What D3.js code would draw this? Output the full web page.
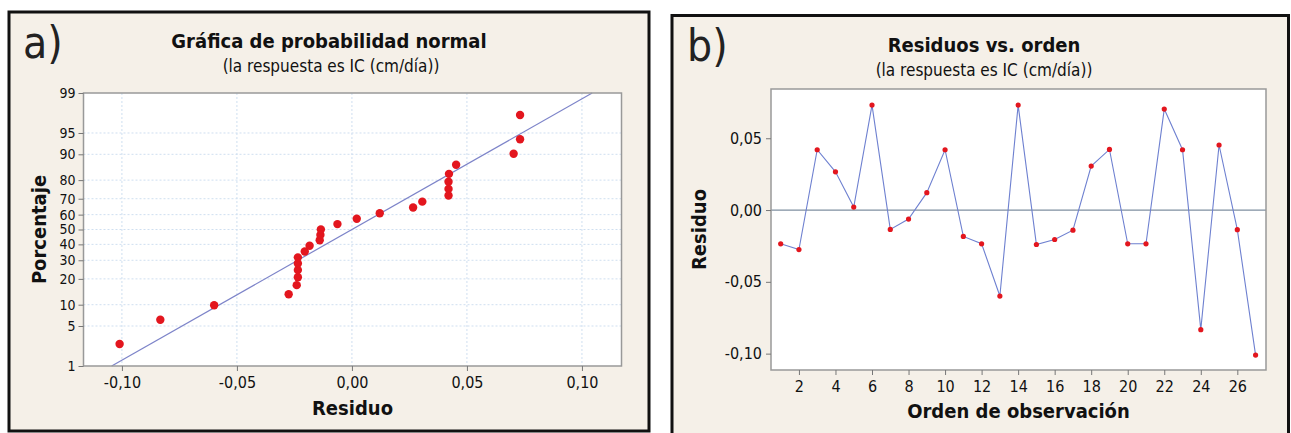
<!DOCTYPE html>
<html>
<head>
<meta charset="utf-8">
<script src="https://cdn.jsdelivr.net/npm/d3@7"></script>
<style>
  body { margin: 0; background: #fff; }
  svg text { font-family: 'DejaVu Sans Condensed', 'DejaVu Sans', sans-serif; fill: #111; }
  .tick text { font-size: 16px; }
  .ya .tick text { font-size: 14px; }
  .title { font-size: 20px; font-weight: bold; }
  .subtitle { font-size: 17px; }
  .axis-label { font-size: 20px; font-weight: bold; }
  .panel-tag { font-size: 44px; fill: #222; }
</style>
</head>
<body>
<div id="chart"></div>
<script>
var observaciones = d3.range(1, 28)
var residuos = [
  -0.0235, -0.0275, 0.0420, 0.0266, 0.0021, 0.0731, -0.0135, -0.0063, 0.0121,
  0.0420, -0.0184, -0.0235, -0.0599, 0.0731, -0.0240, -0.0205, -0.0140, 0.0306,
  0.0422, -0.0235, -0.0235, 0.0703, 0.0420, -0.0833, 0.0453, -0.0137, -0.1010
]
// porcentajes acumulados de la gráfica a (rango de Benard, n = 27)
var porcentajes = [
  2.55, 6.20, 9.85, 13.50, 17.15, 20.80, 24.45, 28.10, 31.75, 35.40, 39.05,
  42.70, 46.35, 50.00, 53.65, 57.30, 60.95, 64.60, 68.25, 71.90, 75.55,
  79.20, 82.85, 86.50, 90.15, 93.80, 97.45
]
var ajusteMedia = 0
var ajusteDesv = 0.0449

var ticksPorcentaje = [1, 5, 10, 20, 30, 40, 50, 60, 70, 80, 90, 95, 99]
var ticksResiduoA = [-0.10, -0.05, 0.00, 0.05, 0.10]
var ticksResiduoB = [-0.10, -0.05, 0.00, 0.05]
var ticksOrden = d3.range(2, 27, 2)

var fmt = function (d) { return d3.format('.2f')(d).replace('.', ',').replace('−', '-') }

// inversa de la normal (Acklam) para la escala de probabilidad
function probit (p) {
  var a = [-39.69683028665376, 220.9460984245205, -275.9285104469687, 138.3577518672690, -30.66479806614716, 2.506628277459239]
  var b = [-54.47609879822406, 161.5858368580409, -155.6989798598866, 66.80131188771972, -13.28068155288572]
  var c = [-0.007784894002430293, -0.3223964580411365, -2.400758277161838, -2.549732539343734, 4.374664141464968, 2.938163982698783]
  var d = [0.007784695709041462, 0.3224671290700398, 2.445134137142996, 3.754408661907416]
  var q, r
  if (p < 0.02425) {
    q = Math.sqrt(-2 * Math.log(p))
    return (((((c[0] * q + c[1]) * q + c[2]) * q + c[3]) * q + c[4]) * q + c[5]) / ((((d[0] * q + d[1]) * q + d[2]) * q + d[3]) * q + 1)
  }
  if (p > 1 - 0.02425) return -probit(1 - p)
  q = p - 0.5
  r = q * q
  return (((((a[0] * r + a[1]) * r + a[2]) * r + a[3]) * r + a[4]) * r + a[5]) * q / (((((b[0] * r + b[1]) * r + b[2]) * r + b[3]) * r + b[4]) * r + 1)
}

var svg = d3.select('#chart').append('svg')
  .attr('width', 1291)
  .attr('height', 433)

// marcos
svg.append('rect').attr('x', 9).attr('y', 12).attr('width', 640).attr('height', 419)
  .attr('fill', '#f5f0e8').attr('stroke', '#111').attr('stroke-width', 3)
svg.append('rect').attr('x', 672).attr('y', 15.5).attr('width', 616.5).attr('height', 430)
  .attr('fill', '#f5f0e8').attr('stroke', '#111').attr('stroke-width', 3)

function plotBox (left, top, right, bottom) {
  var g = svg.append('g').attr('transform', 'translate(' + left + ',' + top + ')')
  g.append('rect')
    .attr('width', right - left)
    .attr('height', bottom - top)
    .attr('fill', '#fff')
  return g
}

function styleAxis (g) {
  g.select('.domain').remove()
  g.selectAll('.tick line').attr('stroke', '#777')
  g.selectAll('.tick text').attr('fill', '#111')
}

// ---------- a) gráfica de probabilidad normal ----------
var A = { left: 83.5, top: 93, right: 621.5, bottom: 366 }
var wA = A.right - A.left
var hA = A.bottom - A.top
var gA = plotBox(A.left, A.top, A.right, A.bottom)

var xA = d3.scaleLinear().domain([-0.1167, 0.1172]).range([0, wA])
var zA = d3.scaleLinear().domain([probit(0.01), probit(0.99)]).range([hA, 0])
var yA = function (pct) { return zA(probit(pct / 100)) }

var grid = gA.append('g').attr('stroke', '#cfdff0').attr('stroke-dasharray', '2,2')
grid.selectAll('.gx').data(ticksResiduoA).enter().append('line')
  .attr('x1', xA).attr('x2', xA).attr('y1', 0).attr('y2', hA)
grid.selectAll('.gy').data(ticksPorcentaje.slice(1, -1)).enter().append('line')
  .attr('x1', 0).attr('x2', wA).attr('y1', yA).attr('y2', yA)

gA.append('line')
  .attr('x1', xA(ajusteMedia + ajusteDesv * probit(0.01)))
  .attr('y1', yA(1))
  .attr('x2', xA(ajusteMedia + ajusteDesv * probit(0.99)))
  .attr('y2', yA(99))
  .attr('stroke', '#7d84c9').attr('stroke-width', 1.2)

var ordenados = residuos.slice().sort(d3.ascending)
gA.selectAll('.pt').data(ordenados).enter().append('circle')
  .attr('cx', function (d) { return xA(d) })
  .attr('cy', function (d, i) { return yA(porcentajes[i]) })
  .attr('r', 4.2)
  .attr('fill', '#e3161e')

gA.append('rect').attr('width', wA).attr('height', hA)
  .attr('fill', 'none').attr('stroke', '#999').attr('stroke-width', 1.5)

gA.append('g')
  .attr('transform', 'translate(0,' + hA + ')')
  .call(d3.axisBottom(xA).tickValues(ticksResiduoA).tickFormat(fmt).tickSize(5).tickPadding(6))
  .call(styleAxis)
gA.append('g')
  .attr('class', 'ya')
  .call(d3.axisLeft(zA).tickValues(ticksPorcentaje.map(function (p) { return probit(p / 100) }))
    .tickFormat(function (d, i) { return ticksPorcentaje[i] }).tickSize(5).tickPadding(3))
  .call(styleAxis)

svg.append('text').attr('class', 'panel-tag').attr('x', 23).attr('y', 58).text('a)')
svg.append('text').attr('class', 'title').attr('x', 329).attr('y', 48)
  .attr('text-anchor', 'middle').text('Gráfica de probabilidad normal')
svg.append('text').attr('class', 'subtitle').attr('x', 331).attr('y', 72)
  .attr('text-anchor', 'middle').text('(la respuesta es IC (cm/día))')
svg.append('text').attr('class', 'axis-label').attr('x', (A.left + A.right) / 2).attr('y', 415)
  .attr('text-anchor', 'middle').text('Residuo')
svg.append('text').attr('class', 'axis-label')
  .attr('transform', 'translate(46,' + (A.top + A.bottom) / 2 + ') rotate(-90)')
  .attr('text-anchor', 'middle').text('Porcentaje')

// ---------- b) residuos vs. orden ----------
var B = { left: 771, top: 89, right: 1266, bottom: 370 }
var wB = B.right - B.left
var hB = B.bottom - B.top
var gB = plotBox(B.left, B.top, B.right, B.bottom)

var xB = d3.scaleLinear().domain([0.47, 27.57]).range([0, wB])
var yB = d3.scaleLinear().domain([-0.1114, 0.0843]).range([hB, 0])

gB.append('line')
  .attr('x1', 0).attr('x2', wB).attr('y1', yB(0)).attr('y2', yB(0))
  .attr('stroke', '#7f8fa0').attr('stroke-width', 1.2)

var serie = observaciones.map(function (o, i) { return [o, residuos[i]] })
gB.append('path')
  .datum(serie)
  .attr('d', d3.line().x(function (d) { return xB(d[0]) }).y(function (d) { return yB(d[1]) }))
  .attr('fill', 'none').attr('stroke', '#6e80d0').attr('stroke-width', 1.1)
gB.selectAll('.pt').data(serie).enter().append('circle')
  .attr('cx', function (d) { return xB(d[0]) })
  .attr('cy', function (d) { return yB(d[1]) })
  .attr('r', 2.6)
  .attr('fill', '#e3161e')

gB.append('rect').attr('width', wB).attr('height', hB)
  .attr('fill', 'none').attr('stroke', '#999').attr('stroke-width', 1.5)

gB.append('g')
  .attr('transform', 'translate(0,' + hB + ')')
  .call(d3.axisBottom(xB).tickValues(ticksOrden).tickSize(5).tickPadding(6))
  .call(styleAxis)
gB.append('g')
  .call(d3.axisLeft(yB).tickValues(ticksResiduoB).tickFormat(fmt).tickSize(5).tickPadding(4))
  .call(styleAxis)

svg.append('text').attr('class', 'panel-tag').attr('x', 687).attr('y', 61).text('b)')
svg.append('text').attr('class', 'title').attr('x', 984).attr('y', 52)
  .attr('text-anchor', 'middle').text('Residuos vs. orden')
svg.append('text').attr('class', 'subtitle').attr('x', 984).attr('y', 76)
  .attr('text-anchor', 'middle').text('(la respuesta es IC (cm/día))')
svg.append('text').attr('class', 'axis-label').attr('x', (B.left + B.right) / 2).attr('y', 418)
  .attr('text-anchor', 'middle').text('Orden de observación')
svg.append('text').attr('class', 'axis-label')
  .attr('transform', 'translate(706,' + (B.top + B.bottom) / 2 + ') rotate(-90)')
  .attr('text-anchor', 'middle').text('Residuo')
</script>
</body>
</html>
